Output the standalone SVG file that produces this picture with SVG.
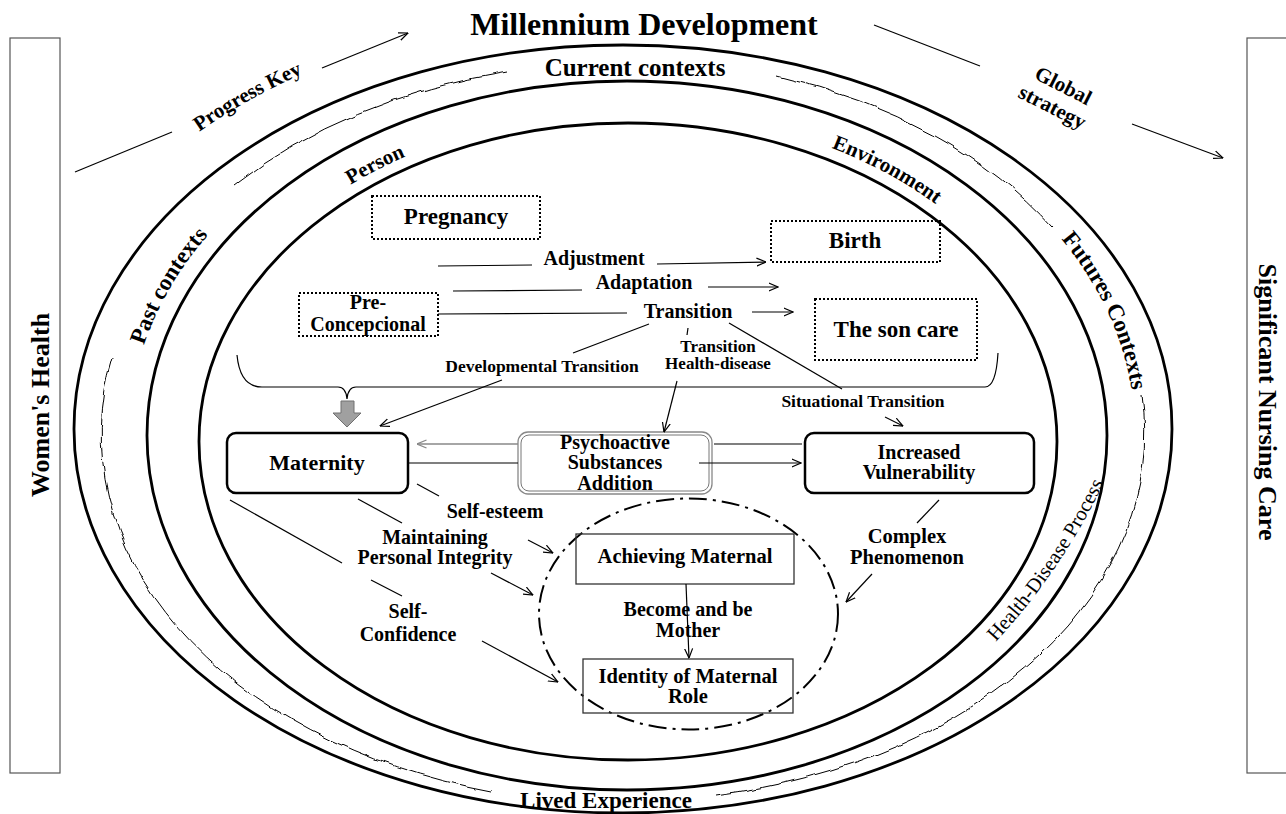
<svg xmlns="http://www.w3.org/2000/svg" width="1286" height="814" viewBox="0 0 1286 814">
<style>
.t{font-family:"Liberation Serif","Times New Roman",serif;font-weight:bold;fill:#000;text-anchor:middle}
.r{font-weight:normal}
.ell{fill:none;stroke:#000;stroke-width:2.8}
.dot{fill:none;stroke:#000;stroke-width:2;stroke-dasharray:2 2}
.ln{fill:none;stroke:#000;stroke-width:1.2}
.arr{marker-end:url(#ah)}
.box{fill:none;stroke:#333;stroke-width:1.3}
.rbox{fill:none;stroke:#000;stroke-width:2.5}
.side{fill:none;stroke:#555;stroke-width:1.2}
.wavy{fill:none;stroke:#000;stroke-width:1;filter:url(#wob)}
</style>
<defs>
<marker id="ah" viewBox="0 0 10 10" refX="9.5" refY="5" markerWidth="10" markerHeight="10" markerUnits="userSpaceOnUse" orient="auto"><path d="M0,1 L9.5,5 L0,9" fill="none" stroke="#000" stroke-width="1.2"/></marker>
<marker id="ahg" viewBox="0 0 10 10" refX="9.5" refY="5" markerWidth="10" markerHeight="10" markerUnits="userSpaceOnUse" orient="auto"><path d="M0,1 L9.5,5 L0,9" fill="none" stroke="#888" stroke-width="1.3"/></marker>
<filter id="wob" filterUnits="userSpaceOnUse" x="0" y="0" width="1286" height="814"><feTurbulence type="fractalNoise" baseFrequency="0.05" numOctaves="2" seed="4" result="n"/><feDisplacementMap in="SourceGraphic" in2="n" scale="6" xChannelSelector="R" yChannelSelector="G"/></filter>
<path id="pPerson" d="M 320 205 A 441 329 0 0 1 440 143"/>
<path id="pEnv" d="M 807 139 A 443 331 0 0 1 956 220"/>
<path id="pHealth" d="M 992 646 Q 1063 570 1106 478"/>
<path id="pFut" d="M 1030 205 A 510 376 0 0 1 1135 436"/>
<path id="pPast" d="M 131 405 A 494 365 0 0 1 252 192"/>
<path id="pProg" d="M 143.8 176.2 A 600 420 0 0 1 369.4 48.4"/>
</defs>
<rect width="1286" height="814" fill="#fff"/>

<g id="frame">
<ellipse class="ell" cx="623" cy="429" rx="549" ry="384"/>
<ellipse class="ell" cx="627" cy="435.5" rx="480" ry="354.5"/>
<ellipse class="ell" cx="628" cy="441.5" rx="429" ry="318.5"/>
<path class="wavy" d="M 235 185 A 520 368 0 0 1 507 72"/>
<path class="wavy" d="M 777 76 A 520 368 0 0 1 1053 228"/>
<path class="wavy" d="M 1142 395 A 520 368 0 0 1 715 795"/>
<path class="wavy" d="M 490 791 A 520 368 0 0 1 113 357"/>
<ellipse cx="688.5" cy="614" rx="149.5" ry="115.5" fill="none" stroke="#000" stroke-width="2" stroke-dasharray="18 6 3 6"/>
</g>

<g id="labels">
<text class="t" x="644" y="35" font-size="32">Millennium Development</text>
<text class="t" x="635" y="76" font-size="25">Current contexts</text>
<text class="t" x="606" y="808" font-size="23">Lived Experience</text>
<text class="t" font-size="21"><textPath href="#pProg" startOffset="50%">Progress Key</textPath></text>
<g transform="translate(1057,98) rotate(27)"><text class="t" x="0" y="-7" font-size="21">Global</text><text class="t" x="0" y="17" font-size="21">strategy</text></g>
<text class="t" font-size="21"><textPath href="#pPerson" startOffset="50%">Person</textPath></text>
<text class="t" font-size="21"><textPath href="#pEnv" startOffset="50%">Environment</textPath></text>
<text class="t" font-size="23"><textPath href="#pPast" startOffset="50%">Past contexts</textPath></text>
<text class="t" font-size="23"><textPath href="#pFut" startOffset="50%">Futures Contexts</textPath></text>
<text class="t r" font-size="20.5"><textPath href="#pHealth" startOffset="50%">Health-Disease Process</textPath></text>
<text class="t" x="594" y="265" font-size="20">Adjustment</text>
<text class="t" x="644" y="289" font-size="20">Adaptation</text>
<text class="t" x="688" y="318" font-size="20">Transition</text>
<text class="t" x="718" y="352" font-size="17">Transition</text>
<text class="t" x="718" y="369" font-size="17">Health-disease</text>
<text class="t" x="542" y="372" font-size="17.5">Developmental Transition</text>
<text class="t" x="863" y="407" font-size="17.5">Situational Transition</text>
<text class="t" x="495" y="518" font-size="20">Self-esteem</text>
<text class="t" x="435" y="544" font-size="20">Maintaining</text>
<text class="t" x="435" y="564" font-size="20">Personal Integrity</text>
<text class="t" x="408" y="618" font-size="20">Self-</text>
<text class="t" x="408" y="641" font-size="20">Confidence</text>
<text class="t" x="688" y="616" font-size="20">Become and be</text>
<text class="t" x="688" y="637" font-size="20">Mother</text>
<text class="t" x="907" y="543" font-size="20.5">Complex</text>
<text class="t" x="907" y="564" font-size="20.5">Phenomenon</text>
</g>

<g id="womens-health">
<rect class="side" x="10" y="38" width="50" height="735"/>
<text class="t" font-size="26" transform="translate(49,405) rotate(-90)">Women's Health</text>
</g>
<g id="nursing-care">
<rect class="side" x="1247" y="38" width="50" height="735"/>
<text class="t" font-size="26" transform="translate(1259,402) rotate(90)">Significant Nursing Care</text>
</g>

<g id="pregnancy">
<rect class="dot" x="372" y="196" width="168" height="43"/>
<text class="t" x="456" y="224" font-size="23">Pregnancy</text>
</g>
<g id="birth">
<rect class="dot" x="771" y="221" width="169" height="41"/>
<text class="t" x="855" y="248" font-size="23">Birth</text>
</g>
<g id="son-care">
<rect class="dot" x="815" y="299" width="162" height="61"/>
<text class="t" x="896" y="337" font-size="23">The son care</text>
</g>
<g id="pre-concepcional">
<rect class="dot" x="299" y="293" width="139" height="43"/>
<text class="t" x="368" y="309" font-size="20">Pre-</text>
<text class="t" x="368" y="331" font-size="20">Concepcional</text>
</g>
<g id="maternity">
<rect class="rbox" x="227" y="433" width="181" height="60" rx="9"/>
<text class="t" x="317" y="470" font-size="22">Maternity</text>
</g>
<g id="psychoactive">
<rect x="518" y="432" width="194" height="62" rx="10" fill="none" stroke="#888" stroke-width="1.3"/>
<rect x="521" y="435" width="188" height="56" rx="8" fill="none" stroke="#777" stroke-width="1"/>
<text class="t" x="615" y="449" font-size="20">Psychoactive</text>
<text class="t" x="615" y="469" font-size="20">Substances</text>
<text class="t" x="615" y="490" font-size="20">Addition</text>
</g>
<g id="vulnerability">
<rect class="rbox" x="805" y="433" width="229" height="60" rx="9"/>
<text class="t" x="919" y="459" font-size="20">Increased</text>
<text class="t" x="919" y="479" font-size="20">Vulnerability</text>
</g>
<g id="achieving">
<rect class="box" x="576" y="534" width="218" height="50"/>
<text class="t" x="685" y="563" font-size="20.5">Achieving Maternal</text>
</g>
<g id="identity">
<rect class="box" x="583" y="659" width="210" height="54"/>
<text class="t" x="688" y="683" font-size="20.5">Identity of Maternal</text>
<text class="t" x="688" y="703" font-size="20.5">Role</text>
</g>

<g id="connectors">
<path class="ln" d="M75 172 L172 132"/>
<path class="ln arr" d="M322 68 L408 33"/>
<path class="ln" d="M874 25 L980 66"/>
<path class="ln arr" d="M1132 124 L1223 158"/>
<path class="ln" d="M438 266 L532 265"/>
<path class="ln arr" d="M657 264 L766 262"/>
<path class="ln" d="M453 291 L582 290"/>
<path class="ln arr" d="M708 287 L778 287"/>
<path class="ln" d="M438 314 L627 313"/>
<path class="ln arr" d="M752 312 L793 312"/>
<path class="ln" d="M688 328 L687 335"/>
<path class="ln" d="M649 324 L573 353"/>
<path class="ln arr" d="M502 380 L380 426"/>
<path class="ln" d="M729 323 L842 389"/>
<path class="ln arr" d="M885 417 L903 426"/>
<path class="ln arr" d="M677 381 L664 432"/>
<path class="ln" d="M237 355 Q 240 387 262 387 L 338 387 Q 346 387 347 399 Q 348 387 356 387 L 985 387 Q 996 387 998 353"/>
<path d="M341 401 L354 401 L354 413 L361 413 L347 427 L333 413 L341 413 Z" fill="#a0a0a0" stroke="#707070" stroke-width="1"/>
<path d="M518 444 L417 444" fill="none" stroke="#888" stroke-width="1.3" marker-end="url(#ahg)"/>
<path class="ln" d="M408 463 L518 463"/>
<path class="ln" d="M714 444 L802 444"/>
<path class="ln arr" d="M699 463 L801 463"/>
<path class="ln" d="M417 484 L439 496"/>
<path class="ln arr" d="M528 540 L553 553"/>
<path class="ln" d="M358 499 L402 523"/>
<path class="ln arr" d="M491 573 L533 595" stroke-width="1.8"/>
<path class="ln" d="M230 500 L342 563"/>
<path class="ln" d="M371 580 L402 596"/>
<path class="ln arr" d="M482 641 L558 682"/>
<path class="ln arr" d="M686 584 L689 658"/>
<path class="ln" d="M939 500 L917 523"/>
<path class="ln arr" d="M872 574 L846 602"/>
</g>
</svg>
